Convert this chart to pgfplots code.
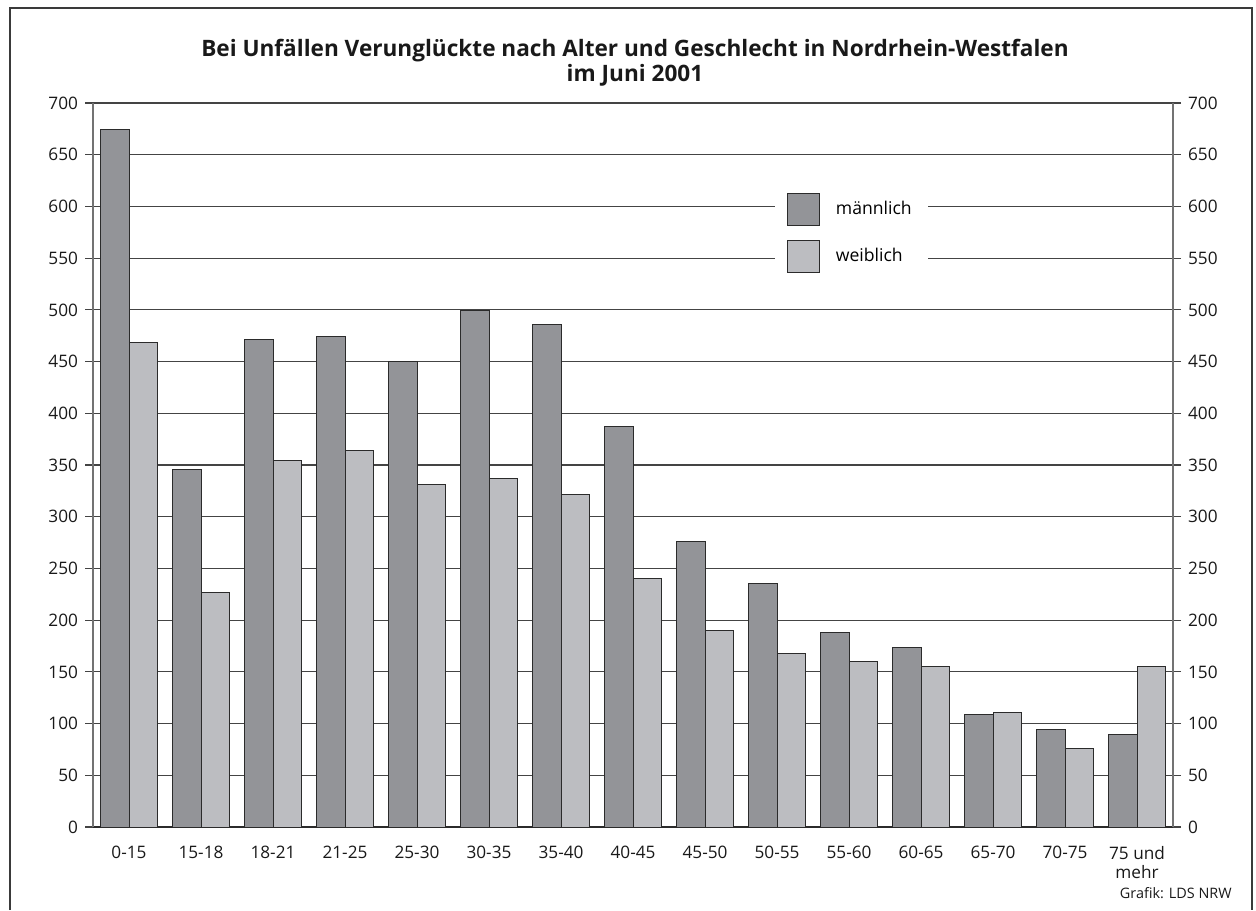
\documentclass[border=0pt]{standalone}
\usepackage{pgfplots}
\pgfplotsset{compat=1.18}
\usepackage{fontspec}
\setmainfont{Open Sans}
\definecolor{male}{HTML}{939498}
\definecolor{female}{HTML}{BCBDC1}
\definecolor{edge}{HTML}{2B2B2B}
\definecolor{gridc}{HTML}{444444}
\definecolor{frame}{HTML}{3A3A3A}
\pgfplotstableread{
x m w
0 674 468
1 346 227
2 471 354
3 474 364
4 450 331
5 499 337
6 486 321
7 387 240
8 276 190
9 235 168
10 188 160
11 174 155
12 109 111
13 94 76
14 89 155
}\datatable
\begin{document}
\begin{tikzpicture}
\useasboundingbox (0pt,0pt) rectangle (628pt,455pt);
\draw[line width=1.2pt, frame] (5pt,0pt) -- (5pt,451pt) -- (626pt,451pt) -- (626pt,0pt);
\node[font=\bfseries\fontsize{11.3}{12.5}\selectfont, align=center, text=black!90] at (317.5pt,423.75pt)
  {Bei Unfällen Verunglückte nach Alter und Geschlecht in Nordrhein-Westfalen\\im Juni 2001};
\node[font=\fontsize{7.2}{8}\selectfont, anchor=east, inner sep=0pt, text=black!90] at (616pt,8.5pt) {Grafik: LDS NRW};
\begin{axis}[
  width=540pt, height=362pt, scale only axis,
  at={(46.5pt,41.5pt)}, anchor=south west,
  xmin=-0.5, xmax=14.5, ymin=0, ymax=700,
  axis x line*=bottom, axis y line*=left,
  x axis line style={draw=edge, line width=0.6pt},
  y axis line style={draw=black!55, line width=0.6pt},
  ytick={0,50,...,700},
  xtick={0,...,14},
  xticklabels={0-15,15-18,18-21,21-25,25-30,30-35,35-40,40-45,45-50,50-55,55-60,60-65,65-70,70-75,{75 und\\mehr}},
  major x tick style={draw=none},
  major y tick style={draw=gridc, line width=0.55pt},
  tick align=outside, major tick length=4pt,
  ymajorgrids, major grid style={draw=gridc, line width=0.55pt},
  ticklabel style={font=\fontsize{8.6}{9.6}\selectfont, text=black!90},
  xticklabel style={align=center, yshift=-2pt},
  /pgf/number format/assume math mode=true,
  ybar=0pt, bar width=14.25pt,
  legend style={at={(0.631,0.887)}, anchor=north west, draw=none, fill=white,
    font=\fontsize{8.8}{9.6}\selectfont, row sep=7pt, inner xsep=6pt, inner ysep=4pt,
    /tikz/every even column/.append style={column sep=3pt}},
  legend cell align=left,
]
\addplot[fill=male, draw=edge, line width=0.5pt,
  legend image code/.code={\draw[fill=male,draw=edge,line width=0.5pt] (2pt,-8pt) rectangle (18pt,8pt);}]
  table[x=x,y=m] {\datatable};
\addplot[fill=female, draw=edge, line width=0.5pt,
  legend image code/.code={\draw[fill=female,draw=edge,line width=0.5pt] (2pt,-8pt) rectangle (18pt,8pt);}]
  table[x=x,y=w] {\datatable};
\legend{\hspace{6pt}männlich\hspace{2pt},\hspace{6pt}weiblich}
\end{axis}
\begin{axis}[
  width=540pt, height=362pt, scale only axis,
  at={(46.5pt,41.5pt)}, anchor=south west,
  xmin=-0.5, xmax=14.5, ymin=0, ymax=700,
  axis x line=none, axis y line*=right,
  y axis line style={draw=black!55, line width=0.6pt},
  ytick={0,50,...,700},
  major y tick style={draw=gridc, line width=0.55pt},
  tick align=outside, major tick length=4pt,
  ticklabel style={font=\fontsize{8.6}{9.6}\selectfont, text=black!90},
  /pgf/number format/assume math mode=true,
]
\addplot[draw=none, forget plot] coordinates {(0,0)};
\end{axis}
\end{tikzpicture}
\end{document}
